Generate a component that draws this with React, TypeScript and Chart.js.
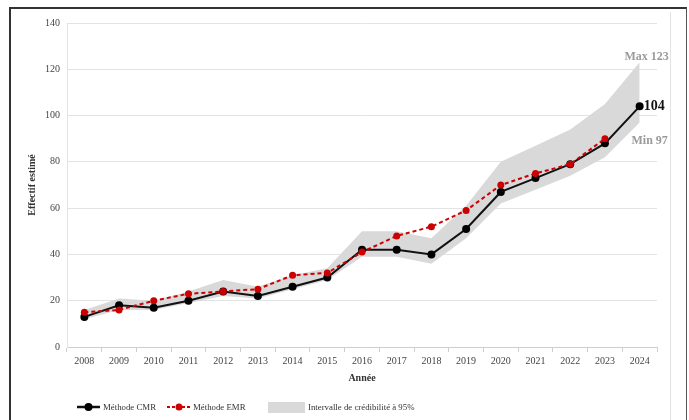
import React, { useEffect, useRef } from "react";
import { Chart, registerables } from "chart.js";

Chart.register(...registerables);

const years = ["2008","2009","2010","2011","2012","2013","2014","2015","2016","2017","2018","2019","2020","2021","2022","2023","2024"];
const cmr = [13, 18, 17, 20, 24, 22, 26, 30, 42, 42, 40, 51, 67, 73, 79, 88, 104];
const emr: (number | null)[] = [15, 16, 20, 23, 24, 25, 31, 32, 41, 48, 52, 59, 70, 75, 79, 90, null];
const upper = [16, 21, 20, 24, 29, 26, 31, 34, 50, 50, 47, 61, 80, 87, 94, 105, 123];
const lower = [12, 16, 16, 19, 22, 21, 25, 29, 39, 39, 36, 47, 62, 68, 74, 82, 97];
const yTicks = [0, 20, 40, 60, 80, 100, 120, 140];

const SERIF = "'Liberation Serif', 'DejaVu Serif', serif";

const overlayPlugin = {
  id: "overlay",
  afterDraw(chart: any) {
    const ctx = chart.ctx as CanvasRenderingContext2D;
    const xs = chart.scales.x;
    const ys = chart.scales.y;
    const last = years.length - 1;
    const xl = xs.getPixelForValue(last);
    ctx.save();
    // annotations
    ctx.textBaseline = "middle";
    ctx.fillStyle = "#9a9a9a";
    ctx.font = `bold 12px ${SERIF}`;
    ctx.textAlign = "center";
    ctx.fillText(`Max ${upper[last]}`, xl + 7, ys.getPixelForValue(upper[last]) - 5);
    ctx.fillText(`Min ${lower[last]}`, xl + 10, ys.getPixelForValue(lower[last]) + 18);
    ctx.fillStyle = "#111";
    ctx.font = `bold 14px ${SERIF}`;
    ctx.textAlign = "left";
    ctx.fillText(String(cmr[last]), xl + 4, ys.getPixelForValue(cmr[last]));

    // legend
    const ly = 407;
    ctx.font = `8.8px ${SERIF}`;
    ctx.fillStyle = "#333";
    ctx.textAlign = "left";
    // CMR
    ctx.strokeStyle = "#111";
    ctx.lineWidth = 2.5;
    ctx.setLineDash([]);
    ctx.beginPath();
    ctx.moveTo(77, ly);
    ctx.lineTo(100, ly);
    ctx.stroke();
    ctx.fillStyle = "#000";
    ctx.beginPath();
    ctx.arc(88.5, ly, 4, 0, Math.PI * 2);
    ctx.fill();
    ctx.fillStyle = "#333";
    ctx.fillText("Méthode CMR", 103, ly + 1);
    // EMR
    ctx.strokeStyle = "#cc0000";
    ctx.lineWidth = 2;
    ctx.setLineDash([3, 2]);
    ctx.beginPath();
    ctx.moveTo(167, ly);
    ctx.lineTo(191, ly);
    ctx.stroke();
    ctx.setLineDash([]);
    ctx.fillStyle = "#cc0000";
    ctx.beginPath();
    ctx.arc(179, ly, 3.5, 0, Math.PI * 2);
    ctx.fill();
    ctx.fillStyle = "#333";
    ctx.fillText("Méthode EMR", 193, ly + 1);
    // band
    ctx.fillStyle = "#d9d9d9";
    ctx.fillRect(268, ly - 5, 37, 11);
    ctx.fillStyle = "#333";
    ctx.fillText("Intervalle de crédibilité à 95%", 308, ly + 1);
    ctx.restore();
  },
};

export default function App() {
  const ref = useRef<HTMLCanvasElement | null>(null);
  useEffect(() => {
    if (!ref.current) return;
    const chart = new Chart(ref.current, {
      type: "line",
      data: {
        labels: years,
        datasets: [
          {
            label: "Méthode EMR",
            data: emr,
            borderColor: "#cc0000",
            backgroundColor: "#cc0000",
            borderWidth: 2,
            borderDash: [4, 3],
            pointRadius: 3.5,
            pointBackgroundColor: "#cc0000",
            pointBorderWidth: 0,
            fill: false,
            spanGaps: false,
          },
          {
            label: "Méthode CMR",
            data: cmr,
            borderColor: "#111",
            backgroundColor: "#000",
            borderWidth: 2,
            pointRadius: 4,
            pointBackgroundColor: "#000",
            pointBorderWidth: 0,
            fill: false,
          },
          {
            label: "upper",
            data: upper,
            borderWidth: 0,
            borderColor: "rgba(0,0,0,0)",
            pointRadius: 0,
            backgroundColor: "#d9d9d9",
            fill: "+1",
          },
          {
            label: "Intervalle de crédibilité à 95%",
            data: lower,
            borderWidth: 0,
            borderColor: "rgba(0,0,0,0)",
            pointRadius: 0,
            backgroundColor: "#d9d9d9",
            fill: false,
          },
        ],
      },
      options: {
        responsive: false,
        animation: false,
        layout: { padding: { left: 26, right: 32, top: 23, bottom: 36 } },
        plugins: {
          legend: { display: false },
          tooltip: { enabled: false },
        },
        scales: {
          x: {
            offset: true,
            grid: {
              offset: true,
              drawOnChartArea: false,
              drawTicks: true,
              tickLength: 5,
              color: "#cfcfcf",
            },
            border: { color: "#cfcfcf" },
            ticks: {
              font: { family: SERIF, size: 10 },
              color: "#444",
              maxRotation: 0,
              autoSkip: false,
              padding: 3,
            },
            title: {
              display: true,
              text: "Année",
              font: { family: SERIF, size: 10, weight: "bold" },
              color: "#333",
              padding: { top: 2, bottom: 0 },
            },
          },
          y: {
            min: 0,
            max: 140,
            afterBuildTicks: (axis: any) => {
              axis.ticks = yTicks.map((v) => ({ value: v }));
            },
            grid: { color: "#e3e3e3", drawTicks: false, lineWidth: 1 },
            border: { display: true, color: "#e3e3e3" },
            ticks: {
              font: { family: SERIF, size: 10 },
              color: "#444",
              padding: 7,
            },
            title: {
              display: true,
              text: "Effectif estimé",
              font: { family: SERIF, size: 10, weight: "bold" },
              color: "#333",
              padding: { top: 0, bottom: 0 },
            },
          },
        },
      },
      plugins: [overlayPlugin],
    });
    return () => chart.destroy();
  }, []);

  return (
    <div>
      <div
        style={{
          position: "fixed",
          left: 9,
          top: 7,
          width: 675,
          height: 420,
          borderLeft: "2px solid #333",
          borderTop: "2px solid #333",
          borderRight: "1px solid #555",
          background: "#fff",
        }}
      />
      <div
        style={{
          position: "fixed",
          left: 670,
          top: 12,
          width: 1,
          height: 410,
          background: "#e2e2e2",
        }}
      />
      <canvas
        ref={ref}
        width={689}
        height={420}
        style={{ position: "fixed", left: 0, top: 0, width: 689, height: 420 }}
      />
    </div>
  );
}
